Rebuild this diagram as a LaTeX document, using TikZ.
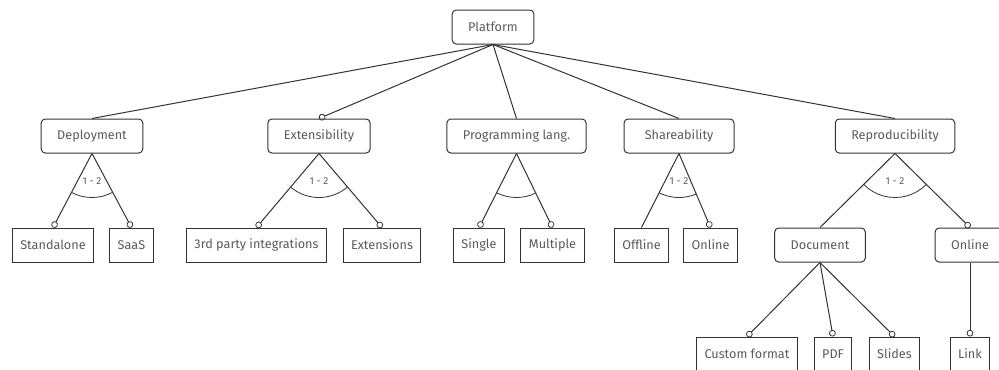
\documentclass[tikz,border=0pt]{standalone}
\usepackage{fontspec}
\setmainfont{Fira Sans}
\usetikzlibrary{arrows.meta, calc}
\definecolor{fmline}{HTML}{333333}
\definecolor{fmtext}{HTML}{5A5A5A}
\tikzset{
  fmlink/.style={draw=fmline, line width=0.75pt},
  fmopt/.style={fmlink, -{Circle[open, length=5pt, width=5pt, line width=0.6pt]}},
  fmgroupnode/.style={rectangle, draw=fmline, line width=0.75pt, rounded corners=3pt,
    minimum height=25.5pt, inner xsep=12pt, text=fmtext, font=\fontsize{9.5}{11}\selectfont},
  fmleaf/.style={fmgroupnode, rounded corners=0pt, inner xsep=6pt},
  fmcard/.style={text=fmtext, font=\fontsize{7.5}{8}\selectfont, inner sep=1pt},
}
\begin{document}
\begin{tikzpicture}[x=0.75pt, y=-0.75pt]
  \useasboundingbox (0,0) rectangle (999,369);

  % Root and top-level features.
  \node[fmgroupnode] (platform) at (493,27) {Platform};
  \node[fmgroupnode] (deploy) at (92,136) {Deployment};
  \node[fmgroupnode] (extens) at (319,136) {Extensibility};
  \node[fmgroupnode] (proglang) at (516.5,136) {Programming lang.};
  \node[fmgroupnode, minimum width=82.5pt] (share) at (679,136) {Shareability};
  \node[fmgroupnode] (repro) at (895,136) {Reproducibility};

  % Second level.
  \node[fmleaf] (standalone) at (53,245) {Standalone};
  \node[fmleaf] (saas) at (131.5,245) {SaaS};
  \node[fmleaf] (thirdparty) at (256.5,245) {3rd party integrations};
  \node[fmleaf] (extensions) at (382,245) {Extensions};
  \node[fmleaf] (single) at (479,245) {Single};
  \node[fmleaf] (multiple) at (552.5,245) {Multiple};
  \node[fmleaf] (offline) at (641.5,245) {Offline};
  \node[fmleaf] (shonline) at (710.5,245) {Online};
  \node[fmgroupnode] (document) at (820,245) {Document};
  \node[fmgroupnode] (reonline) at (970,245) {Online};

  % Third level.
  \node[fmleaf] (custom) at (747,354) {Custom format};
  \node[fmleaf] (pdf) at (833,354) {PDF};
  \node[fmleaf] (slides) at (894.5,354) {Slides};
  \node[fmleaf] (link) at (970,354) {Link};

  % Edges.
  \path[fmlink]
    (platform.south) edge (deploy.north)
    (platform.south) edge[fmopt] (extens.north)
    (platform.south) edge (proglang.north)
    (platform.south) edge (share.north)
    (platform.south) edge (repro.north)
    (deploy.south) edge[fmopt] (standalone.north)
    (deploy.south) edge[fmopt] (saas.north)
    (extens.south) edge[fmopt] (thirdparty.north)
    (extens.south) edge[fmopt] (extensions.north)
    (proglang.south) edge[fmopt] (single.north)
    (proglang.south) edge[fmopt] (multiple.north)
    (share.south) edge (offline.north)
    (share.south) edge[fmopt] (shonline.north)
    (repro.south) edge (document.north)
    (repro.south) edge[fmopt] (reonline.north)
    (document.south) edge[fmopt] (custom.north)
    (document.south) edge[fmopt] (pdf.north)
    (document.south) edge[fmopt] (slides.north)
    (reonline.south) edge[fmopt] (link.north);

  % Group arcs and cardinalities.
  \foreach \g/\a/\b/\card in {deploy/standalone/saas/{1 - 2}, extens/thirdparty/extensions/{1 - 2},
      proglang/single/multiple/{}, share/offline/shonline/{1 - 2}, repro/document/reonline/{1 - 2}} {
    \draw[fmline, line width=0.6pt]
      let \p1=($(\a.north)-(\g.south)$), \p2=($(\b.north)-(\g.south)$),
          \n1={atan2(\y1,\x1)}, \n2={atan2(\y2,\x2)} in
      ($(\g.south)+(\n1:33pt)$) arc[start angle=\n1, end angle=\n2, radius=33pt];
    \node[fmcard] at ([yshift=-21pt]\g.south) {\card};
  }
\end{tikzpicture}
\end{document}
